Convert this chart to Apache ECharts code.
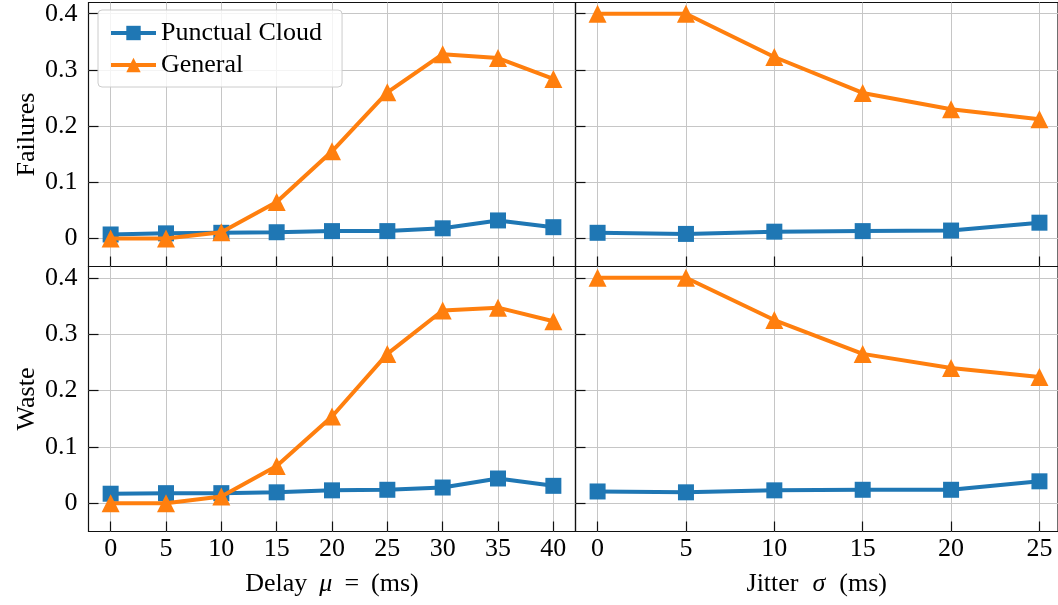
<!DOCTYPE html>
<html>
<head>
<meta charset="utf-8">
<script src="https://cdn.jsdelivr.net/npm/echarts@6/dist/echarts.min.js"></script>
<style>html,body{margin:0;padding:0;background:#fff}#c{width:1058px;height:605px}</style>
</head>
<body>
<div id="c"></div>
<script>
// ---- data ----
const delayX = [0, 5, 10, 15, 20, 25, 30, 35, 40];
const jitterX = [0, 5, 10, 15, 20, 25];
const yTicks = [0, 0.1, 0.2, 0.3, 0.4];

const failDelayCloud   = [0.007, 0.009, 0.010, 0.011, 0.013, 0.013, 0.018, 0.032, 0.020];
const failDelayGeneral = [0.000, 0.000, 0.011, 0.065, 0.155, 0.260, 0.328, 0.321, 0.284];
const failJitterCloud   = [0.010, 0.008, 0.012, 0.013, 0.014, 0.028];
const failJitterGeneral = [0.400, 0.400, 0.323, 0.259, 0.230, 0.212];
const wasteDelayCloud   = [0.017, 0.018, 0.018, 0.0195, 0.023, 0.024, 0.028, 0.044, 0.031];
const wasteDelayGeneral = [0.000, 0.000, 0.012, 0.066, 0.154, 0.265, 0.342, 0.347, 0.323];
const wasteJitterCloud   = [0.021, 0.0195, 0.023, 0.024, 0.024, 0.039];
const wasteJitterGeneral = [0.400, 0.400, 0.325, 0.265, 0.240, 0.224];

const BLUE = '#1f77b4', ORANGE = '#ff7f0e';
const FONT = 'Liberation Serif';
const INK = '#111';
const GRIDC = '#c6c6c6';
const TICKFS = 26, NAMEFS = 26;

function pairs(xs, ys) { return xs.map((x, i) => [x, ys[i]]); }

const grids = [
  {left: 88.5, top: 2.5, width: 487, height: 264},
  {left: 575.5, top: 2.5, width: 482.5, height: 264},
  {left: 88.5, top: 266.5, width: 487, height: 265},
  {left: 575.5, top: 266.5, width: 482.5, height: 265}
].map(g => Object.assign({show: true, borderColor: INK, borderWidth: 1.2, backgroundColor: 'transparent'}, g));

const richName = {
  a: {fontFamily: FONT, fontSize: NAMEFS, color: '#000'},
  i: {fontFamily: FONT, fontSize: NAMEFS, fontStyle: 'italic', color: '#000', padding: [0, 12, 0, 12]},
  j: {fontFamily: FONT, fontSize: NAMEFS, fontStyle: 'italic', color: '#000', padding: [0, 14, 0, 14]},
  e: {fontFamily: FONT, fontSize: NAMEFS, color: '#000', padding: [0, 12, 0, 0]}
};

function xAxis(idx, isDelay, bottom, name) {
  const ticks = isDelay ? delayX : jitterX;
  return {
    type: 'value', gridIndex: idx,
    min: isDelay ? -2 : -1.25, max: isDelay ? 42 : 26.05,
    axisLine: {show: false, onZero: false},
    axisTick: {show: true, inside: true, length: 10, lineStyle: {color: INK, width: 1.2}, customValues: ticks},
    axisLabel: {show: bottom, customValues: ticks, margin: 5, color: '#000', fontFamily: FONT, fontSize: TICKFS},
    splitLine: {show: true, lineStyle: {color: GRIDC, width: 1}},
    name: bottom ? name : '', nameLocation: 'middle', nameGap: 40,
    nameTextStyle: {color: '#000', fontFamily: FONT, fontSize: NAMEFS, rich: richName}
  };
}
function yAxis(idx, left, name) {
  return {
    type: 'value', gridIndex: idx, min: -0.05, max: 0.42,
    axisLine: {show: false, onZero: false},
    axisTick: {show: true, inside: true, length: 10, lineStyle: {color: INK, width: 1.2}, customValues: yTicks},
    axisLabel: {show: left, customValues: yTicks, margin: 11, color: '#000', fontFamily: FONT, fontSize: TICKFS,
      formatter: v => (Math.round(v * 10) / 10).toString()},
    splitLine: {show: true, lineStyle: {color: GRIDC, width: 1}},
    name: left ? name : '', nameLocation: 'middle', nameGap: 48,
    nameTextStyle: {color: '#000', fontFamily: FONT, fontSize: NAMEFS}
  };
}

function line(name, color, symbol, size, idx, data) {
  return {
    name, type: 'line', xAxisIndex: idx, yAxisIndex: idx, data,
    symbol, symbolSize: size, showAllSymbol: true,
    lineStyle: {color, width: 4}, itemStyle: {color},
    emphasis: {disabled: true}, animation: false, z: symbol === 'triangle' ? 3 : 2
  };
}

const option = {
  animation: false,
  backgroundColor: '#fff',
  grid: grids,
  xAxis: [
    xAxis(0, true, false),
    xAxis(1, false, false),
    xAxis(2, true, true, '{a|Delay}{i|μ}{e|=}{a|(ms)}'),
    xAxis(3, false, true, '{a|Jitter}{j|σ}{a|(ms)}')
  ],
  yAxis: [
    yAxis(0, true, 'Failures'),
    yAxis(1, false, ''),
    yAxis(2, true, 'Waste'),
    yAxis(3, false, '')
  ],
  legend: {
    left: 98, top: 10, orient: 'vertical',
    data: ['Punctual Cloud', 'General'],
    itemWidth: 45, itemHeight: 18, itemGap: 6, itemTextGap: 8,
    padding: [10, 20, 9, 11],
    lineStyle: {width: 4},
    backgroundColor: 'rgba(255,255,255,0.8)', borderColor: '#cccccc', borderWidth: 1, borderRadius: 4,
    textStyle: {fontFamily: FONT, fontSize: NAMEFS, color: '#000', lineHeight: 26},
    selectedMode: false
  },
  series: [
    line('Punctual Cloud', BLUE, 'rect', 16, 0, pairs(delayX, failDelayCloud)),
    line('General', ORANGE, 'triangle', 18, 0, pairs(delayX, failDelayGeneral)),
    line('Punctual Cloud', BLUE, 'rect', 16, 1, pairs(jitterX, failJitterCloud)),
    line('General', ORANGE, 'triangle', 18, 1, pairs(jitterX, failJitterGeneral)),
    line('Punctual Cloud', BLUE, 'rect', 16, 2, pairs(delayX, wasteDelayCloud)),
    line('General', ORANGE, 'triangle', 18, 2, pairs(delayX, wasteDelayGeneral)),
    line('Punctual Cloud', BLUE, 'rect', 16, 3, pairs(jitterX, wasteJitterCloud)),
    line('General', ORANGE, 'triangle', 18, 3, pairs(jitterX, wasteJitterGeneral))
  ]
};
const chart = echarts.init(document.getElementById('c'), null, {renderer: 'canvas'});
chart.setOption(option);
</script>
</body>
</html>
